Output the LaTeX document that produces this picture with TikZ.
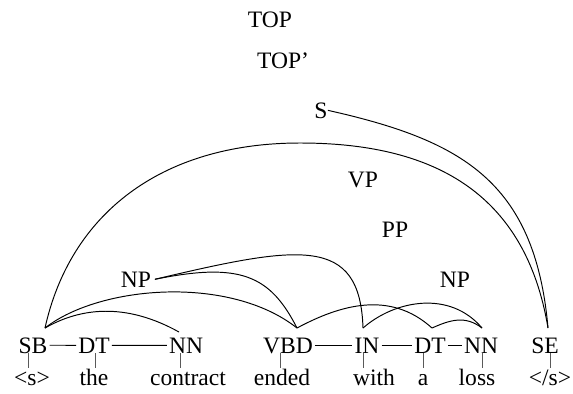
\documentclass[tikz,border=0pt]{standalone}
\usepackage{fontspec}
\setmainfont{Liberation Serif}
\usetikzlibrary{positioning}
\tikzset{
  tree/cat/.style ={font=\fontsize{13.4}{15}\selectfont, inner ysep=0pt,
                    inner xsep=2pt, anchor=base},
  tree/tag/.style ={tree/cat, inner xsep=1pt, text depth=0pt},
  tree/word/.style={tree/cat, text height=9.7pt},
  tree/edge/.style={line width=0.55pt, black},
  tree/tick/.style={line width=0.5pt, black!65}
}

\begin{document}
\begin{tikzpicture}[x=0.02cm, y=-0.02cm]
    % one pixel of the layout per unit, y growing downwards
    \useasboundingbox (0,0) rectangle (573,393);
    % tags, words and the ticks joining them
    \foreach \n/\t/\w/\tx/\wx/\kx in {SB/SB/{<s>}/33/32/28, DTa/DT/the/94/94/95,
        NNa/NN/contract/186/188/180, VBD/VBD/ended/288/282/280,
        IN/IN/with/367/374/363, DTb/DT/a/430/423/423,
        NNb/NN/loss/481/477/482, SE/SE/{</s>}/545/550/550} {
      \node[tree/tag]  (t\n) at (\tx,353) {\t};
      \node[tree/word] (w\n) at (\wx,385) {\w};
      \coordinate (k\n) at (\kx,0);
      \draw[tree/tick] (t\n.south -| k\n) -- (w\n.north -| k\n);
    }
    \draw[tree/edge] (tSB) -- (tDTa) -- (tNNa);
    \draw[tree/edge] (tVBD) -- (tIN) -- (tDTb) -- (tNNb);
    % phrase labels
    \node[tree/cat] (top)  at (270,27)  {TOP};
    \node[tree/cat] (topp) at (283,68)  {TOP'};
    \node[tree/cat, inner xsep=0pt] (s) at (321,118) {S};
    \node[tree/cat] (vp)   at (363,187) {VP};
    \node[tree/cat] (pp)   at (395,237) {PP};
    \node[tree/cat] (npa)  at (136,287) {NP};
    \node[tree/cat] (npb)  at (455,287) {NP};
    % where the arcs meet the tags
    \coordinate (aSB)  at (45,328);
    \coordinate (aNNa) at (179,332);
    \coordinate (aVBD) at (297,328);
    \coordinate (aIN)  at (363,328);
    \coordinate (aDTb) at (432,328);
    \coordinate (aNNb) at (482,328);
    \coordinate (aSE)  at (548,328);
    \coordinate (peak) at (300,143);
    % arcs
    \draw[tree/edge] (s.east) .. controls (460,140) and (535,180) .. (aSE);
    \draw[tree/edge] (aSB) .. controls (70,215) and (160,143) .. (peak)
                           .. controls (430,143) and (525,190) .. (aSE);
    \draw[tree/edge] (aSB) .. controls (80,308) and (125,302) .. (aNNa);
    \draw[tree/edge] (aSB) .. controls (100,285) and (230,275) .. (aVBD);
    \draw[tree/edge] (npa.east) .. controls (240,262) and (270,275) .. (aVBD);
    \draw[tree/edge] (npa.east) .. controls (300,245) and (360,235) .. (aIN);
    \draw[tree/edge] (aVBD) .. controls (340,305) and (390,290) .. (aDTb);
    \draw[tree/edge] (aIN) .. controls (395,300) and (450,290) .. (aNNb);
    \draw[tree/edge] (aDTb) .. controls (450,320) and (465,315) .. (aNNb);
\end{tikzpicture}
\end{document}
